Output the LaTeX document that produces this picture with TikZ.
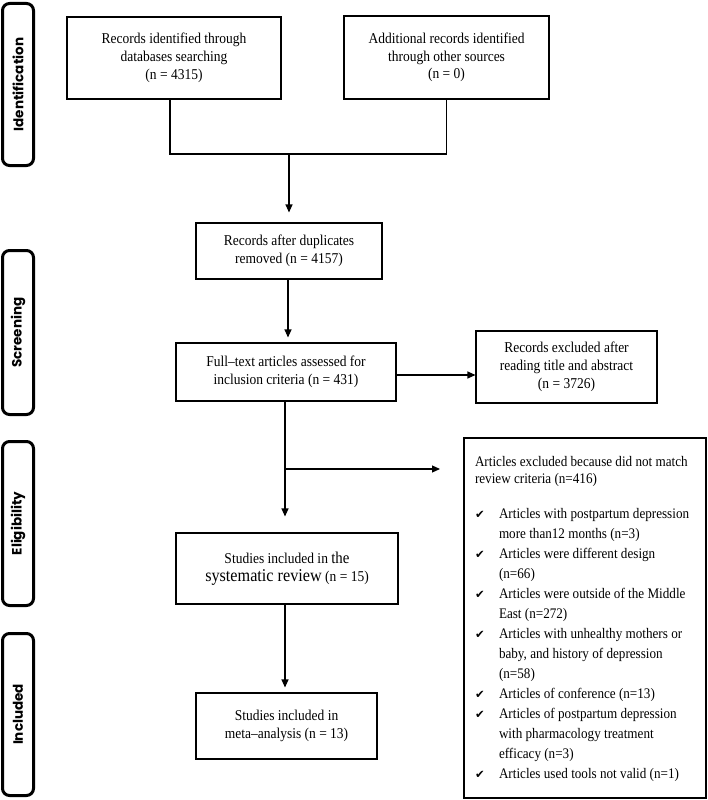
\documentclass[tikz,border=0pt]{standalone}
\usepackage{fontspec}
\setmainfont[FakeStretch=0.9]{Liberation Serif}
\newfontfamily\sidefont{Poppins}
\newfontfamily\symfont{DejaVu Sans}
\usetikzlibrary{arrows.meta}
\newcommand\chkitem[1]{\par{\let\\\newline\hangindent=24pt\hangafter=1\noindent\makebox[24pt][l]{{\symfont\fontsize{11.5}{12}\selectfont ✔}}#1\par}}
\begin{document}
\begin{tikzpicture}[x=1pt,y=-1pt,
  box/.style={draw, line width=1.1pt, inner sep=0pt, align=center, font=\fontsize{15}{17.7}\selectfont},
  side/.style={draw, line width=3pt, rounded corners=7pt, inner sep=0pt, minimum width=31pt, font=\sidefont\bfseries\fontsize{13.5}{16}\selectfont},
  conn/.style={line width=1.1pt},
  arr/.style={conn, -{Triangle[length=8pt,width=7pt]}}
]
\useasboundingbox (0,0) rectangle (708,800);

% side labels
\node[side, minimum height=162pt] (sid) at (18,84.5) {\rotatebox{90}{Identification}};
\node[side, minimum height=164pt] (ssc) at (18,332.5) {\rotatebox{90}{Screening}};
\node[side, minimum height=164pt] (sel) at (18,523.5) {\rotatebox{90}{Eligibility}};
\node[side, minimum height=162pt] (sin) at (18,714.5) {\rotatebox{90}{Included}};

% boxes
\node[box, minimum width=214pt, minimum height=82pt] (b1) at (174,58) {Records identified through\\databases searching\\(n = 4315)};
\node[box, minimum width=205pt, minimum height=83pt] (b2) at (446.5,57.5) {Additional records identified\\through other sources\\(n = 0)};
\node[box, minimum width=186pt, minimum height=56pt] (b3) at (289,251) {Records after duplicates\\removed (n = 4157)};
\node[box, minimum width=220pt, minimum height=58pt] (b4) at (286,372) {Full–text articles assessed for\\inclusion criteria (n = 431)};
\node[box, minimum width=181pt, minimum height=72pt] (b5) at (566.5,367) {Records excluded after\\reading title and abstract\\(n = 3726)};
\node[box, minimum width=222pt, minimum height=71pt] (b7) at (287,568.5) {Studies included in {\fontsize{16.5}{17}\selectfont the}\\{\fontsize{18}{19}\selectfont systematic review} (n = 15)};
\node[box, minimum width=181pt, minimum height=66pt] (b8) at (286.5,726) {Studies included in\\meta–analysis (n = 13)};
\node[box, minimum width=242pt, minimum height=360pt, align=left] (b6) at (585,618) {%
\begin{minipage}[c][340pt][t]{220pt}\raggedright\fontsize{14.6}{17}\selectfont
\vspace*{8pt}Articles excluded because did not match\\review criteria (n=416)\par\vspace{15pt}
\fontsize{14.6}{20}\selectfont
\chkitem{Articles with postpartum depression\\more than12 months (n=3)}
\chkitem{Articles were different design\\(n=66)}
\chkitem{Articles were outside of the Middle\\East (n=272)}
\chkitem{Articles with unhealthy mothers or\\baby, and history of depression\\(n=58)}
\chkitem{Articles of conference (n=13)}
\chkitem{Articles of postpartum depression\\with pharmacology treatment\\efficacy (n=3)}
\chkitem{Articles used tools not valid (n=1)}
\end{minipage}};

% connectors
\coordinate (j1) at (170,154);
\coordinate (j2) at (446.5,154);
\coordinate (j0) at (289,154);
\coordinate (br) at (285,469);
\coordinate (fe) at (440,469);
\draw[conn] (b1.south -| j1) -- (j1) -- (j2) -- (b2.south);
\draw[arr, shorten >=10pt] (j0) -- (b3.north -| j0);
\draw[arr, shorten >=5pt] ([xshift=-1pt]b3.south) -- ([xshift=-1pt]b3.south |- b4.north);
\draw[arr] ([yshift=-3pt]b4.east) -- ([yshift=-3pt]b4.east -| b5.west);
\draw[arr, shorten >=16pt] (b4.south -| br) -- (b7.north -| br);
\draw[arr] (br) -- (fe);
\draw[arr, shorten >=5pt] (b7.south -| br) -- (b8.north -| br);
\end{tikzpicture}
\end{document}
